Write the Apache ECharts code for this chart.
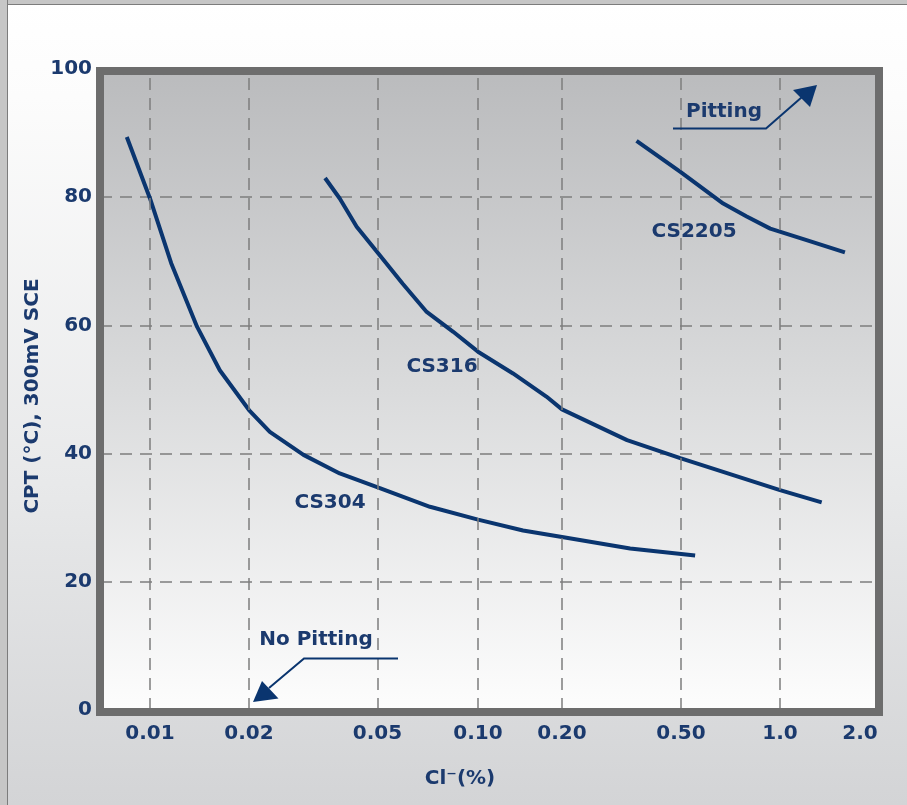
<!DOCTYPE html>
<html>
<head>
<meta charset="utf-8">
<title>CPT vs Cl-</title>
<script src="https://cdn.jsdelivr.net/npm/echarts@6/dist/echarts.min.js"></script>
<style>
html, body { margin: 0; padding: 0; }
body {
  width: 907px; height: 805px; overflow: hidden; position: relative;
  background: linear-gradient(to bottom, #ffffff 0%, #fcfcfc 12%, #e8e9ea 60%, #d3d4d6 100%);
}
#frameTop { position: absolute; left: 0; top: 0; width: 907px; height: 4px; background: #c6c6c6; border-bottom: 1px solid #7c7c7c; }
#frameLeft { position: absolute; left: 0; top: 0; width: 7px; height: 805px; background: #c6c6c6; border-right: 1px solid #7c7c7c; }
#main { position: absolute; left: 0; top: 0; width: 907px; height: 805px; }
</style>
</head>
<body>
<div id="frameTop"></div>
<div id="frameLeft"></div>
<div id="main"></div>
<script>
// x ticks (Cl- %)
const clTicks = [0.01, 0.02, 0.05, 0.1, 0.2, 0.5, 1.0, 2.0];
const clTickLabels = ['0.01', '0.02', '0.05', '0.10', '0.20', '0.50', '1.0', '2.0'];

// curves: Cl- (%) and CPT (°C)
const cs304Cl  = [0.0085, 0.0100, 0.0116, 0.0139, 0.0163, 0.0200, 0.0232, 0.0295, 0.0382, 0.0508, 0.0718, 0.100, 0.145, 0.200, 0.338, 0.552];
const cs304Cpt = [89.4, 79.8, 69.7, 59.8, 53.0, 46.8, 43.4, 39.8, 36.9, 34.6, 31.7, 29.7, 28.0, 27.0, 25.2, 24.1];

const cs316Cl  = [0.0344, 0.0382, 0.0431, 0.0503, 0.0595, 0.0702, 0.0843, 0.100, 0.1335, 0.1758, 0.200, 0.330, 0.497, 1.00, 1.435];
const cs316Cpt = [83.0, 79.8, 75.4, 71.2, 66.5, 62.1, 59.0, 55.9, 52.5, 48.9, 46.9, 42.1, 39.3, 34.3, 32.4];

const cs2205Cl  = [0.355, 0.499, 0.672, 0.792, 0.934, 1.259, 1.755];
const cs2205Cpt = [88.8, 83.9, 79.0, 77.0, 75.1, 73.3, 71.4];

const curveNames = ['CS304', 'CS316', 'CS2205'];

// the printed log axis is not evenly spaced, so every tick gets its own
// spot along a 0..779 axis and values are placed log-wise between them
const tickSpots = [50, 149, 277.5, 378, 462, 581, 680, 760];
function clToAxis(cl) {
  let i = 0;
  while (i < clTicks.length - 2 && cl > clTicks[i + 1]) i++;
  const a = Math.log10(clTicks[i]), b = Math.log10(clTicks[i + 1]);
  return tickSpots[i] + (Math.log10(cl) - a) / (b - a) * (tickSpots[i + 1] - tickSpots[i]);
}
function pairs(xs, ys) {
  return xs.map((x, i) => [clToAxis(x), ys[i]]);
}

const navy = '#0a356f';
const textNavy = '#1b3a6e';
const font = '"DejaVu Sans", Verdana, sans-serif';

const chart = echarts.init(document.getElementById('main'), null, { renderer: 'canvas' });

function label(text, x, y, rot) {
  return {
    type: 'text', z: 50, silent: true,
    x: x, y: y, rotation: rot || 0,
    style: {
      text: text, x: 0, y: 0, fill: textNavy,
      fontFamily: font, fontWeight: 'bold', fontSize: 20,
      align: 'center', verticalAlign: 'middle'
    }
  };
}

const lineStyle = { color: navy, width: 4 };

const option = {
  backgroundColor: 'transparent',
  animation: false,
  grid: {
    left: 100, top: 69, width: 779, height: 641,
    show: true,
    borderWidth: 0,
    backgroundColor: new echarts.graphic.LinearGradient(0, 0, 0, 1, [
      { offset: 0, color: '#babbbd' },
      { offset: 0.5, color: '#dadbdc' },
      { offset: 1, color: '#fdfdfd' }
    ])
  },
  xAxis: {
    type: 'value', min: 0, max: 779,
    axisLine: { show: false },
    axisTick: { show: false },
    splitLine: { show: false },
    axisLabel: {
      customValues: tickSpots,
      margin: 14,
      color: textNavy, fontFamily: font, fontWeight: 'bold', fontSize: 20,
      formatter: function (v) {
        const i = tickSpots.indexOf(v);
        return i >= 0 ? clTickLabels[i] : '';
      }
    }
  },
  yAxis: {
    type: 'value', min: 0, max: 100, interval: 20,
    axisLine: { show: false },
    axisTick: { show: false },
    axisLabel: { margin: 8, color: textNavy, fontFamily: font, fontWeight: 'bold', fontSize: 20 },
    splitLine: { lineStyle: { type: [12, 8], color: '#7d7d7d', width: 1.5 } }
  },
  series: [
    {
      // vertical dashed grid at the printed tick spots
      type: 'line', data: [], z: 1, silent: true,
      markLine: {
        silent: true, symbol: ['none', 'none'],
        label: { show: false },
        lineStyle: { type: [12, 8], color: '#7d7d7d', width: 1.5 },
        data: tickSpots.slice(0, 7).map(v => ({ xAxis: v }))
      }
    },
    { name: curveNames[0], type: 'line', z: 3, symbol: 'none', lineStyle: lineStyle, data: pairs(cs304Cl, cs304Cpt) },
    { name: curveNames[1], type: 'line', z: 3, symbol: 'none', lineStyle: lineStyle, data: pairs(cs316Cl, cs316Cpt) },
    { name: curveNames[2], type: 'line', z: 3, symbol: 'none', lineStyle: lineStyle, data: pairs(cs2205Cl, cs2205Cpt) }
  ],
  graphic: [
    // thick frame round the plot
    {
      type: 'rect', z: 40, silent: true,
      shape: { x: 100, y: 71, width: 779, height: 641 },
      style: { fill: 'transparent', stroke: '#6d6d6d', lineWidth: 8 }
    },
    label(curveNames[0], 330, 503),
    label(curveNames[1], 442, 367),
    label(curveNames[2], 694, 232),
    // Pitting arrow
    label('Pitting', 724, 112),
    {
      type: 'polyline', z: 45, silent: true,
      shape: { points: [[673, 128.5], [766, 128.5], [802, 97]] },
      style: { stroke: navy, lineWidth: 2, fill: null }
    },
    {
      type: 'polygon', z: 45, silent: true,
      shape: { points: [[817, 85], [793, 90], [810, 107]] },
      style: { fill: navy }
    },
    // No Pitting arrow
    label('No Pitting', 316, 640),
    {
      type: 'polyline', z: 45, silent: true,
      shape: { points: [[398, 658.5], [304, 658.5], [269, 688]] },
      style: { stroke: navy, lineWidth: 2, fill: null }
    },
    {
      type: 'polygon', z: 45, silent: true,
      shape: { points: [[253, 702], [262, 681], [278.5, 698.5]] },
      style: { fill: navy }
    },
    // axis titles
    label('Cl⁻(%)', 460, 779),
    label('CPT (°C), 300mV SCE', 33, 396, Math.PI / 2)
  ]
};

chart.setOption(option);
</script>
</body>
</html>
